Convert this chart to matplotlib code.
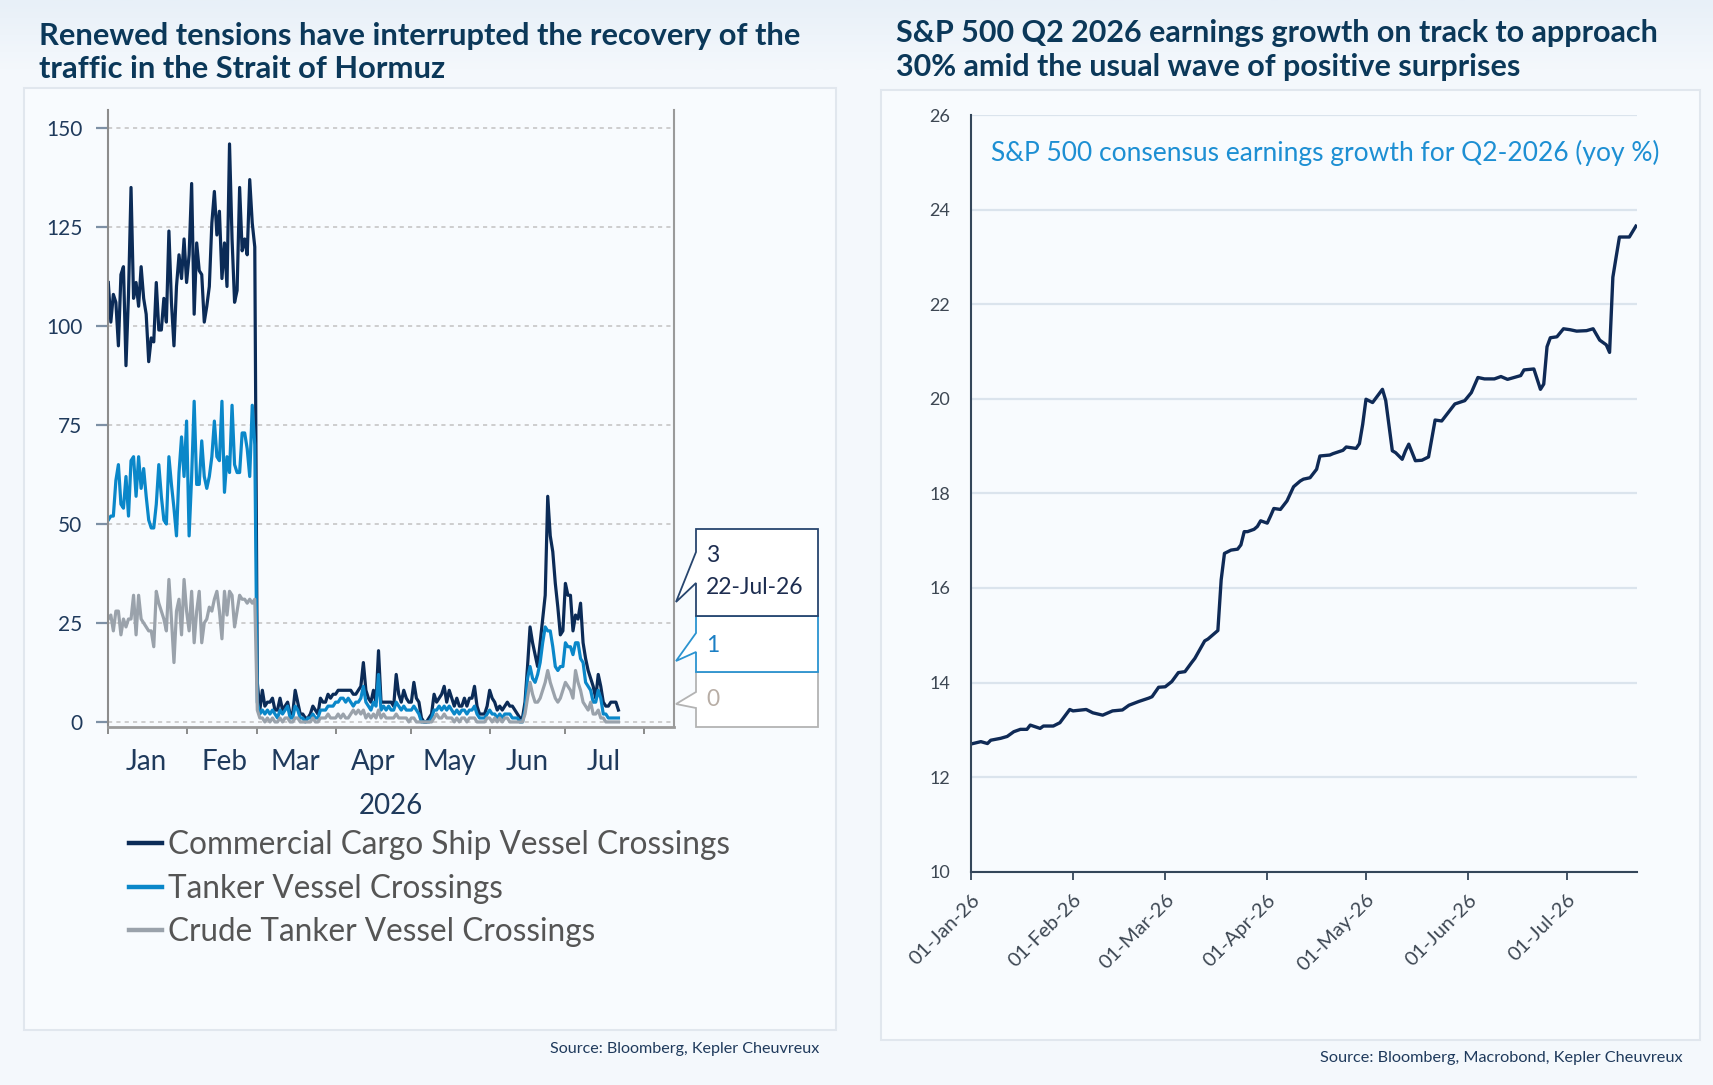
import numpy as np
import pandas as pd
import matplotlib
matplotlib.use("Agg")
import matplotlib.pyplot as plt
import matplotlib.dates as mdates
from matplotlib.patches import Polygon, Rectangle

plt.rcParams['font.family'] = ['Lato', 'DejaVu Sans']

W, H = 1713, 1085

# ---- left chart: daily vessel crossings, 1 Jan 2026 onwards ----
cargo = [111, 101, 108, 106, 95, 113, 115, 90, 108, 135,
         107, 111, 105, 115, 107, 103, 91, 97, 96, 111,
         99, 99, 107, 101, 124, 106, 95, 110, 118, 112,
         122, 111, 118, 136, 103, 121, 114, 113, 101, 105,
         110, 126, 134, 123, 129, 112, 121, 110, 146, 122,
         106, 109, 135, 119, 122, 118, 137, 126, 120,
         # March onwards
         10, 3, 8, 4, 5, 5, 6, 3, 3, 6,
         3, 4, 5, 2, 2, 8, 5, 2, 2, 1,
         1, 2, 4, 3, 2, 6, 5, 5, 7, 6,
         7, 7, 8, 8, 8, 8, 8, 8, 7, 7,
         8, 9, 15, 8, 6, 5, 8, 5, 18, 5,
         5, 5, 5, 5, 4, 12, 7, 5, 8, 6,
         5, 5, 10, 6, 5, 1, 0, 0, 1, 2,
         7, 5, 6, 7, 9, 5, 8, 6, 4, 6,
         4, 4, 6, 4, 6, 6, 9, 4, 2, 2,
         2, 4, 8, 6, 5, 3, 4, 3, 4, 5,
         4, 4, 3, 2, 1, 1, 5, 14, 24, 20,
         17, 14, 20, 26, 32, 57, 47, 43, 35, 29,
         22, 23, 35, 32, 32, 23, 27, 26, 30, 20,
         16, 13, 11, 9, 6, 12, 9, 5, 4, 4,
         5, 5, 5, 3]

tanker = [51, 52, 52, 61, 65, 55, 54, 62, 52, 66,
          67, 57, 67, 59, 64, 57, 51, 49, 49, 55,
          65, 57, 51, 50, 67, 60, 54, 47, 63, 72,
          62, 76, 47, 62, 81, 60, 60, 71, 62, 59,
          62, 67, 76, 67, 66, 81, 58, 67, 63, 80,
          65, 63, 63, 73, 73, 69, 62, 80, 70,
          5, 2, 3, 2, 3, 2, 3, 2, 1, 3,
          2, 3, 4, 1, 1, 4, 3, 1, 1, 0,
          1, 1, 2, 1, 1, 3, 3, 3, 4, 4,
          4, 5, 5, 6, 6, 5, 6, 5, 4, 5,
          5, 6, 9, 5, 4, 3, 5, 4, 12, 3,
          4, 3, 4, 3, 3, 5, 4, 3, 4, 3,
          3, 3, 4, 3, 2, 0, 0, 0, 0, 1,
          3, 3, 4, 3, 4, 3, 4, 3, 2, 3,
          2, 3, 3, 2, 3, 3, 4, 2, 1, 1,
          1, 2, 3, 2, 2, 1, 2, 1, 2, 2,
          2, 1, 1, 1, 0, 0, 3, 11, 14, 11,
          10, 12, 15, 20, 24, 23, 23, 19, 14, 13,
          14, 14, 20, 19, 19, 17, 20, 20, 16, 15,
          10, 9, 8, 5, 5, 8, 6, 2, 2, 1,
          1, 1, 1, 1]

crude = [26, 27, 23, 28, 28, 22, 26, 24, 26, 26,
         32, 22, 32, 26, 25, 24, 23, 23, 19, 33,
         30, 28, 26, 23, 36, 26, 15, 28, 31, 22,
         36, 28, 23, 33, 20, 28, 33, 20, 25, 26,
         29, 28, 31, 33, 28, 21, 33, 27, 33, 32,
         24, 28, 32, 31, 31, 30, 31, 30, 31,
         3, 1, 1, 0, 1, 0, 1, 0, 0, 1,
         0, 1, 1, 0, 0, 1, 1, 0, 0, 0,
         0, 0, 1, 0, 0, 1, 1, 1, 2, 1,
         1, 1, 2, 1, 2, 1, 1, 2, 3, 2,
         3, 2, 3, 1, 2, 1, 2, 1, 3, 1,
         2, 1, 1, 1, 1, 2, 1, 1, 1, 1,
         0, 1, 1, 0, 0, 0, 0, 0, 0, 0,
         1, 2, 1, 1, 2, 1, 1, 1, 0, 1,
         0, 1, 1, 0, 1, 1, 1, 0, 0, 0,
         0, 1, 1, 0, 1, 0, 1, 0, 1, 1,
         0, 0, 0, 0, 0, 0, 2, 6, 10, 7,
         5, 5, 6, 8, 10, 13, 10, 8, 6, 5,
         6, 8, 10, 9, 8, 6, 13, 10, 8, 5,
         4, 3, 5, 2, 2, 3, 1, 1, 0, 0,
         0, 0, 0, 0]

series_names = ["Commercial Cargo Ship Vessel Crossings",
                "Tanker Vessel Crossings",
                "Crude Tanker Vessel Crossings"]
last_labels = ["3", "22-Jul-26", "1", "0"]

# ---- right chart: S&P 500 Q2-2026 consensus earnings growth ----
eps_dates = ["2026-01-01", "2026-01-04", "2026-01-06", "2026-01-07", "2026-01-10",
             "2026-01-12", "2026-01-14", "2026-01-16", "2026-01-18", "2026-01-19",
             "2026-01-22", "2026-01-23", "2026-01-26", "2026-01-28", "2026-01-31",
             "2026-02-01", "2026-02-05", "2026-02-07", "2026-02-10", "2026-02-13",
             "2026-02-16", "2026-02-18", "2026-02-21", "2026-02-24", "2026-02-25",
             "2026-02-27", "2026-03-01", "2026-03-03", "2026-03-05", "2026-03-07",
             "2026-03-09", "2026-03-10", "2026-03-13", "2026-03-14", "2026-03-16",
             "2026-03-17", "2026-03-18", "2026-03-19", "2026-03-21", "2026-03-23",
             "2026-03-24", "2026-03-25", "2026-03-26", "2026-03-28", "2026-03-29",
             "2026-03-30", "2026-04-01", "2026-04-02", "2026-04-03", "2026-04-05",
             "2026-04-07", "2026-04-09", "2026-04-11", "2026-04-12", "2026-04-14",
             "2026-04-16", "2026-04-17", "2026-04-20", "2026-04-21", "2026-04-24",
             "2026-04-25", "2026-04-28", "2026-04-29", "2026-04-30", "2026-05-01",
             "2026-05-03", "2026-05-06", "2026-05-07", "2026-05-09", "2026-05-10",
             "2026-05-12", "2026-05-13", "2026-05-14", "2026-05-16", "2026-05-18",
             "2026-05-20", "2026-05-22", "2026-05-24", "2026-05-26", "2026-05-28",
             "2026-05-31", "2026-06-02", "2026-06-04", "2026-06-06", "2026-06-09",
             "2026-06-11", "2026-06-13", "2026-06-15", "2026-06-17", "2026-06-18",
             "2026-06-21", "2026-06-23", "2026-06-24", "2026-06-25", "2026-06-26",
             "2026-06-28", "2026-06-30", "2026-07-02", "2026-07-04", "2026-07-07",
             "2026-07-09", "2026-07-11", "2026-07-13", "2026-07-14", "2026-07-15",
             "2026-07-16", "2026-07-17", "2026-07-20", "2026-07-22"]
eps_growth = [12.70, 12.75, 12.71, 12.78, 12.82, 12.86, 12.96, 13.01, 13.01, 13.10,
              13.03, 13.08, 13.08, 13.15, 13.43, 13.40, 13.43, 13.36, 13.31, 13.40,
              13.42, 13.52, 13.60, 13.67, 13.70, 13.90, 13.91, 14.02, 14.21, 14.23,
              14.42, 14.51, 14.88, 14.92, 15.04, 15.10, 16.17, 16.73, 16.80, 16.82,
              16.91, 17.19, 17.19, 17.24, 17.30, 17.42, 17.37, 17.52, 17.68, 17.66,
              17.84, 18.14, 18.26, 18.30, 18.33, 18.51, 18.79, 18.81, 18.84, 18.91,
              18.98, 18.95, 19.05, 19.46, 19.99, 19.92, 20.20, 19.96, 18.90, 18.86,
              18.72, 18.90, 19.04, 18.69, 18.70, 18.77, 19.55, 19.53, 19.71, 19.89,
              19.96, 20.13, 20.45, 20.42, 20.42, 20.47, 20.41, 20.45, 20.49, 20.61,
              20.63, 20.20, 20.31, 21.10, 21.29, 21.31, 21.48, 21.46, 21.43, 21.44,
              21.48, 21.24, 21.14, 20.98, 22.57, 23.00, 23.42, 23.42, 23.65]

start = pd.Timestamp("2026-01-01")
navy = '#0b2b57'
blue = '#0a87c9'
grey = '#9aa2ab'
title_col = '#0b3859'
text_col = '#1f3a5c'


def fx(px):
    return px / W


def fy(py):
    return 1 - py / H


fig = plt.figure(figsize=(W / 100, H / 100), dpi=100, facecolor='#f4f8fc')

# soft gradient at the top of the page
bg = fig.add_axes([0, fy(70), 1, 1 - fy(70)], zorder=-3)
bg.imshow(np.linspace(0, 1, 50).reshape(-1, 1), aspect='auto', extent=(0, 1, 0, 1),
          cmap=matplotlib.colors.LinearSegmentedColormap.from_list('g', ['#e8f0f8', '#f4f8fc']))
bg.axis('off')

# panel frames
for x0, y0, x1, y1 in [(24, 88, 836, 1030), (881, 90, 1700, 1040)]:
    fig.patches.append(Rectangle((fx(x0), fy(y1)), fx(x1) - fx(x0), fy(y0) - fy(y1),
                                 transform=fig.transFigure, fc='#f8fbfe', ec='#e1e7ee',
                                 lw=1.5, zorder=-2))

# ================= left chart =================
ax1 = fig.add_axes([fx(108.3), fy(726.7), fx(674) - fx(108.3), fy(110.3) - fy(726.7)])
ax1.set_facecolor('none')
lines = []
for vals, col, name in zip([cargo, tanker, crude], [navy, blue, grey], series_names):
    d = pd.date_range(start, periods=len(vals), freq='D')
    ln, = ax1.plot(d, vals, color=col, lw=2.3, label=name, solid_joinstyle='round')
    lines.append(ln)

ax1.set_xlim(start, start + pd.Timedelta(days=224))
ax1.set_ylim(-1.2, 154.5)
ax1.set_yticks(range(0, 151, 25))
ax1.yaxis.grid(True, linestyle=(0, (2.5, 2.5)), color='#c6c6c6', lw=1.2)
ax1.set_axisbelow(True)
ax1.spines['top'].set_visible(False)
ax1.spines['left'].set_color('#8c8c8c')
ax1.spines['left'].set_linewidth(1.5)
ax1.spines['right'].set_color('#9a9a9a')
ax1.spines['right'].set_linewidth(1.5)
ax1.spines['bottom'].set_color('#9a9a9a')
ax1.spines['bottom'].set_linewidth(2)
ax1.tick_params(axis='y', length=8.6, width=1.6, color='#7d90a5', labelcolor=text_col,
                labelsize=15, pad=10)
ax1.xaxis.set_major_locator(mdates.MonthLocator())
ax1.xaxis.set_major_formatter(plt.NullFormatter())
ax1.xaxis.set_minor_locator(mdates.MonthLocator(bymonthday=16))
ax1.xaxis.set_minor_formatter(mdates.DateFormatter('%b'))
ax1.tick_params(axis='x', which='major', length=5, width=1.4, color='#8a8a8a')
ax1.tick_params(axis='x', which='minor', length=0, labelsize=20, labelcolor=text_col, pad=16)
fig.text(fx(391), fy(806), '2026', ha='center', va='center', fontsize=20, color=text_col)

leg = ax1.legend(handles=lines, loc='upper left', bbox_to_anchor=(fx(129), fy(830)),
                 bbox_transform=fig.transFigure, frameon=False, fontsize=22.7,
                 labelcolor='#555555', handlelength=1.05, handletextpad=0.18,
                 labelspacing=0.43, borderpad=0, borderaxespad=0)
for l in leg.get_lines():
    l.set_linewidth(3.2)

# last-value callout boxes at the right edge
box_specs = [
    # top, bottom, arm top, arm bottom, tip, edge colour
    (672, 727, 692, 708, 704, '#b3b3b3'),
    (616, 672, 633, 652, 661, '#2a93d0'),
    (529, 616, 552, 583, 602, '#27456e'),
]
for top, bot, a1, a2, tip, ec in box_specs:
    verts = [(818, top), (696, top), (696, a1), (676, tip), (696, a2), (696, bot), (818, bot)]
    poly = Polygon([(fx(x), fy(y)) for x, y in verts], closed=True,
                   transform=fig.transFigure, fc='white', ec=ec, lw=1.3, zorder=5)
    fig.patches.append(poly)

for txt, ypx, col in zip(last_labels, [556, 588, 646, 699],
                         ['#1d2d50', '#1d2d50', '#1b7fc4', '#b8aea6']):
    fig.text(fx(706), fy(ypx), txt, fontsize=16.5, color=col, va='center', zorder=6)

fig.text(fx(39), fy(36), "Renewed tensions have interrupted the recovery of the",
         ha='left', va='center', fontsize=22.2, fontweight='bold', color=title_col)
fig.text(fx(39), fy(69), "traffic in the Strait of Hormuz",
         ha='left', va='center', fontsize=22.2, fontweight='bold', color=title_col)
fig.text(fx(819), fy(1049), "Source: Bloomberg, Kepler Cheuvreux", ha='right', va='center',
         fontsize=11.6, color=text_col)

# ================= right chart =================
ax2 = fig.add_axes([fx(971), fy(871.7), fx(1637) - fx(971), fy(115) - fy(871.7)])
ax2.set_facecolor('none')
ax2.plot(pd.to_datetime(eps_dates), eps_growth, color='#0f2a56', lw=2.4,
         solid_joinstyle='round')
ax2.set_xlim(start, pd.Timestamp("2026-07-22 08:00"))
ax2.set_ylim(10, 26)
ax2.set_yticks(range(10, 27, 2))
ax2.yaxis.grid(True, color='#dbe4ed', lw=1.6)
ax2.set_axisbelow(True)
ax2.spines['top'].set_visible(False)
ax2.spines['right'].set_visible(False)
for s in ['left', 'bottom']:
    ax2.spines[s].set_color('#34465a')
    ax2.spines[s].set_linewidth(1.5)
ax2.tick_params(axis='y', length=0, pad=15, labelsize=13, labelcolor='#3d4753')
ax2.xaxis.set_major_locator(mdates.MonthLocator())
ax2.xaxis.set_major_formatter(mdates.DateFormatter('%d-%b-%y'))
ax2.tick_params(axis='x', length=6, width=1.3, color='#34465a', labelsize=14.5,
                labelcolor='#3d4753', pad=8)
plt.setp(ax2.get_xticklabels(), rotation=45, ha='right', rotation_mode='anchor')

fig.text(fx(991), fy(153), "S&P 500 consensus earnings growth for Q2-2026 (yoy %)",
         ha='left', va='center', fontsize=19, color='#1d8fd3')
fig.text(fx(896), fy(33), "S&P 500 Q2 2026 earnings growth on track to approach",
         ha='left', va='center', fontsize=22, fontweight='bold', color=title_col)
fig.text(fx(896), fy(67), "30% amid the usual wave of positive surprises",
         ha='left', va='center', fontsize=22, fontweight='bold', color=title_col)
fig.text(fx(1683), fy(1058), "Source: Bloomberg, Macrobond, Kepler Cheuvreux", ha='right',
         va='center', fontsize=11.7, color=text_col)

fig.savefig('out.png', dpi=100, facecolor=fig.get_facecolor())
